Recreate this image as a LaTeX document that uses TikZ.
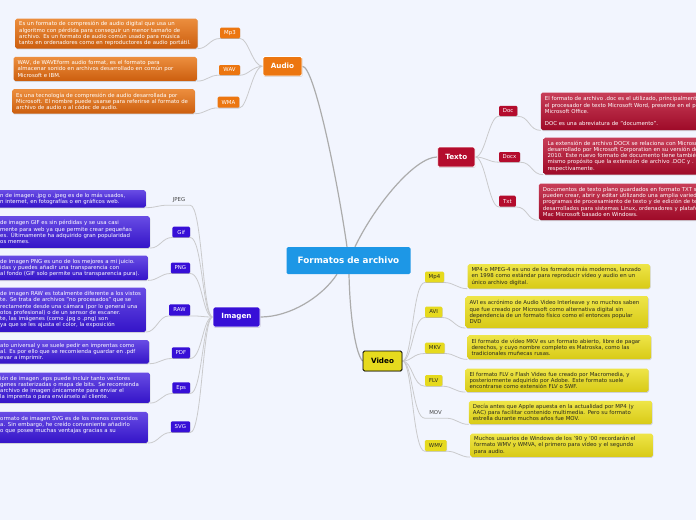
\documentclass[tikz,border=0pt]{standalone}
\usepackage{fontspec}
\setmainfont{DejaVu Sans}
\usetikzlibrary{shadows}
\pgfdeclarelayer{back}
\pgfdeclarelayer{lines}
\pgfsetlayers{back,lines,main}
\definecolor{bgc}{RGB}{242,245,254}
\definecolor{cRoot}{RGB}{29,151,230}
\definecolor{cAudio}{RGB}{236,118,16}
\definecolor{oT}{RGB}{236,142,62}
\definecolor{oB}{RGB}{204,94,14}
\definecolor{cTexto}{RGB}{180,12,45}
\definecolor{rT}{RGB}{200,62,88}
\definecolor{rB}{RGB}{158,10,40}
\definecolor{cImagen}{RGB}{55,15,215}
\definecolor{vT}{RGB}{104,76,228}
\definecolor{vB}{RGB}{52,20,200}
\definecolor{cVideo}{RGB}{230,218,30}
\definecolor{yT}{RGB}{238,229,72}
\definecolor{yB}{RGB}{216,202,22}
\definecolor{lineM}{RGB}{172,172,172}
\definecolor{lineS}{RGB}{202,202,204}
\definecolor{txtgray}{RGB}{70,70,70}
\definecolor{txtdark}{RGB}{40,40,30}
\begin{document}
\begin{tikzpicture}[x=1pt,y=-1pt,
  mainc/.style={draw=lineM, line width=1.2pt},
  subc/.style={draw=lineS, line width=0.8pt},
  topic/.style={rectangle, rounded corners=1.5pt, draw=white, line width=0.8pt,
    text=white, font=\bfseries\fontsize{7.2}{8}\selectfont, inner sep=0pt,
    drop shadow={shadow xshift=0.5pt, shadow yshift=-0.8pt, opacity=0.3}},
  lab/.style={rectangle, rounded corners=1.2pt, inner sep=0pt, text=white,
    font=\fontsize{5.4}{6}\selectfont,
    drop shadow={shadow xshift=0.4pt, shadow yshift=-0.6pt, opacity=0.25}},
  plainlab/.style={rectangle, inner sep=0pt, text=txtgray, font=\fontsize{5.4}{6}\selectfont},
  dsc/.style 2 args={rectangle, rounded corners=1.8pt, anchor=north west,
    inner xsep=4pt, inner ysep=0pt, text width=#1, minimum height=#2, align=left,
    font=\fontsize{5.4}{6.2}\selectfont,
    drop shadow={shadow xshift=0.5pt, shadow yshift=-0.9pt, opacity=0.3}},
  descO/.style 2 args={dsc={#1}{#2}, top color=oT, bottom color=oB, text=white},
  descR/.style 2 args={dsc={#1}{#2}, top color=rT, bottom color=rB, text=white},
  descV/.style 2 args={dsc={#1}{#2}, top color=vT, bottom color=vB, text=white},
  descY/.style 2 args={dsc={#1}{#2}, top color=yT, bottom color=yB, text=txtdark},
]
\useasboundingbox (0,0) rectangle (696,520);
\begin{pgfonlayer}{back}
\fill[bgc] (0,0) rectangle (696,520);
\end{pgfonlayer}
\clip (0,0) rectangle (696,520);

% ---------- root ----------
\node[rectangle, rounded corners=1.5pt, fill=cRoot, text=white, inner sep=0pt,
  minimum width=124pt, minimum height=27pt,
  font=\bfseries\fontsize{8.8}{10}\selectfont] (root) at (348.5,260.5) {Formatos de archivo};

% ---------- Audio ----------
\node[topic, fill=cAudio, minimum width=39pt, minimum height=19.5pt] (audio) at (282.5,66.3) {Audio};
\node[lab, fill=cAudio, minimum width=20pt, minimum height=10.6pt] (mp3) at (230,33) {Mp3};
\node[lab, fill=cAudio, minimum width=21pt, minimum height=10pt] (wav) at (229.5,70) {WAV};
\node[lab, fill=cAudio, minimum width=21.6pt, minimum height=11pt] (wma) at (228.5,102.2) {WMA};
\node[descO={174.3pt}{30pt}] (dmp3) at (15,18.3) {Es un formato de compresión de audio digital que usa un\\algoritmo con pérdida para conseguir un menor tamaño de\\archivo. Es un formato de audio común usado para música\\tanto en ordenadores como en reproductores de audio portátil.};
\node[descO={175.4pt}{24pt}] (dwav) at (13.3,56.7) {WAV, de WAVEform audio format, es el formato para\\almacenar sonido en archivos desarrollado en común por\\Microsoft e IBM.};
\node[descO={174.7pt}{24.3pt}] (dwma) at (12,89) {Es una tecnología de compresión de audio desarrollada por\\Microsoft. El nombre puede usarse para referirse al formato de\\archivo de audio o al códec de audio.};

% ---------- Texto ----------
\node[topic, fill=cTexto, minimum width=37.3pt, minimum height=20pt] (texto) at (456.3,157) {Texto};
\node[lab, fill=cTexto, minimum width=18.3pt, minimum height=10.3pt] (doc) at (508.2,110.9) {Doc};
\node[lab, fill=cTexto, minimum width=21pt, minimum height=10pt] (docx) at (509.5,157) {Docx};
\node[lab, fill=cTexto, minimum width=16.7pt, minimum height=11pt] (txt) at (507.4,201.2) {Txt};
\node[descR={200pt}{37.7pt}] (ddoc) at (540.7,92.3) {El formato de archivo .doc es el utilizado, principalmente,\\el procesador de texto Microsoft Word, presente en el paquete\\Microsoft Office.\\[6.2pt]DOC es una abreviatura de "documento".};
\node[descR={200pt}{37pt}] (ddocx) at (543.3,137.3) {La extensión de archivo DOCX se relaciona con Microsoft\\desarrollado por Microsoft Corporation en su versión de\\2010. Este nuevo formato de documento tiene también\\mismo propósito que la extensión de archivo .DOC y .\\respectivamente.};
\node[descR={200pt}{36.7pt}] (dtxt) at (538.7,183.3) {Documentos de texto plano guardados en formato TXT se\\pueden crear, abrir y editar utilizando una amplia variedad\\programas de procesamiento de texto y de edición de texto\\desarrollados para sistemas Linux, ordenadores y plataformas\\Mac Microsoft basado en Windows.};

% ---------- Imagen ----------
\node[topic, fill=cImagen, minimum width=47pt, minimum height=20pt] (imagen) at (236.5,317) {Imagen};
\node[plainlab, minimum width=22pt, minimum height=10pt] (jpeg) at (179,200) {JPEG};
\node[lab, fill=cImagen, minimum width=17.7pt, minimum height=10.6pt] (gif) at (181.2,232) {Gif};
\node[lab, fill=cImagen, minimum width=19.3pt, minimum height=10.6pt] (png) at (180.4,268) {PNG};
\node[lab, fill=cImagen, minimum width=21pt, minimum height=11.4pt] (raw) at (179.5,310) {RAW};
\node[lab, fill=cImagen, minimum width=18.3pt, minimum height=11pt] (pdf) at (180.9,352.8) {PDF};
\node[lab, fill=cImagen, minimum width=17.7pt, minimum height=11pt] (eps) at (181.2,387.8) {Eps};
\node[lab, fill=cImagen, minimum width=19.3pt, minimum height=11pt] (svg) at (180.4,426.8) {SVG};
\node[descV={141.7pt}{17.3pt}] (djpeg) at (-4,190) {n de imagen .jpg o .jpeg es de lo más usados,\\n internet, en fotografías o en gráficos web.};
\node[descV={145.7pt}{31.7pt}] (dgif) at (-4,216) {de imagen GIF es sin pérdidas y se usa casi\\mente para web ya que permite crear pequeñas\\es. Últimamente ha adquirido gran popularidad\\os memes.};
\node[descV={143.7pt}{24.7pt}] (dpng) at (-4,255.3) {de imagen PNG es uno de los mejores a mi juicio.\\idas y puedes añadir una transparencia con\\al fondo (GIF solo permite una transparencia pura).};
\node[descV={141.7pt}{44.4pt}] (dRAW) at (-4,287.3) {de imagen RAW es totalmente diferente a los vistos\\te. Se trata de archivos "no procesados" que se\\rectamente desde una cámara (por lo general una\\otos profesional) o de un sensor de escaner.\\te, las imágenes (como .jpg o .png) son\\ ya que se les ajusta el color, la exposición};
\node[descV={145pt}{23.3pt}] (dpdf) at (-4,340) {ato universal y se suele pedir en imprentas como\\al. Es por ello que se recomienda guardar en .pdf\\evar a imprimir.};
\node[descV={145.7pt}{30.4pt}] (deps) at (-4,372.3) {ión de imagen .eps puede incluir tanto vectores\\genes rasterizadas o mapa de bits. Se recomienda\\archivo de imagen únicamente para enviar el\\ la imprenta o para enviárselo al cliente.};
\node[descV={143.7pt}{31pt}] (dsvg) at (-4,411.7) {ormato de imagen SVG es de los menos conocidos\\a. Sin embargo, he creído conveniente añadirlo\\o que posee muchas ventajas gracias a su\\\mbox{}};

% ---------- Video ----------
\node[topic, fill=cVideo, draw=black, text=black, minimum width=39pt, minimum height=20pt] (video) at (382.5,361) {Video};
\node[lab, fill=cVideo, text=txtdark, minimum width=19pt, minimum height=10.6pt] (mp4) at (434.5,277) {Mp4};
\node[lab, fill=cVideo, text=txtdark, minimum width=17.3pt, minimum height=10.6pt] (avi) at (433.7,312) {AVI};
\node[lab, fill=cVideo, text=txtdark, minimum width=19.7pt, minimum height=10.6pt] (mkv) at (434.8,348) {MKV};
\node[lab, fill=cVideo, text=txtdark, minimum width=17.3pt, minimum height=11pt] (flv) at (433.7,380.5) {FLV};
\node[plainlab, minimum width=21pt, minimum height=10pt] (mov) at (435.5,413) {MOV};
\node[lab, fill=cVideo, text=txtdark, minimum width=21.7pt, minimum height=11pt] (wmv) at (435.8,445.5) {WMV};
\node[descY={174.7pt}{24.3pt}] (dmp4) at (467.3,264) {MP4 o MPEG-4 es uno de los formatos más modernos, lanzado\\en 1998 como estándar para reproducir vídeo y audio en un\\único archivo digital.};
\node[descY={175pt}{31.7pt}] (davi) at (465.3,296) {AVI es acrónimo de Audio Video Interleave y no muchos saben\\que fue creado por Microsoft como alternativa digital sin\\dependencia de un formato físico como el entonces popular\\DVD};
\node[descY={175.7pt}{24pt}] (dmkv) at (467.3,335) {El formato de vídeo MKV es un formato abierto, libre de pagar\\derechos, y cuyo nombre completo es Matroska, como las\\tradicionales muñecas rusas.};
\node[descY={175pt}{23.4pt}] (dflv) at (465.3,368.3) {El formato FLV o Flash Video fue creado por Macromedia, y\\posteriormente adquirido por Adobe. Este formato suele\\encontrarse como extensión FLV o SWF.};
\node[descY={175.3pt}{23.3pt}] (dmov) at (468.7,400.7) {Decía antes que Apple apuesta en la actualidad por MP4 (y\\AAC) para facilitar contenido multimedia. Pero su formato\\estrella durante muchos años fue MOV.};
\node[descY={174.7pt}{23.4pt}] (dwmv) at (470,433.3) {Muchos usuarios de Windows de los '90 y '00 recordarán el\\formato WMV y WMVA, el primero para vídeo y el segundo\\para audio.};

% ---------- connectors ----------
\begin{pgfonlayer}{lines}
\draw[mainc] ([xshift=-1.5pt]root.north) .. controls (337,177) and (314,66) .. (audio.east);
\draw[mainc] ([xshift=6.5pt]root.north) .. controls (375,205) and (415,157) .. (texto.west);
\draw[mainc] ([xshift=-11.5pt]root.south) .. controls (322,297) and (290,317) .. (imagen.east);
\draw[mainc] ([xshift=0.5pt]root.south) .. controls (350,320) and (356,354) .. (video.west);

\foreach \c/\d in {mp3/dmp3, wav/dwav, wma/dwma}{
  \draw[subc] (audio.west) .. controls +(-10,0) and +(8,0) .. (\c.south east) -- (\c.south west)
    .. controls +(-10,0) and +(10,0) .. (\d.south east);
}
\foreach \c/\d in {doc/ddoc, docx/ddocx, txt/dtxt}{
  \draw[subc] (texto.east) .. controls +(10,0) and +(-10,0) .. (\c.south west) -- (\c.south east)
    .. controls +(12,0) and +(-12,0) .. (\d.south west);
}
\foreach \c/\d in {jpeg/djpeg, gif/dgif, png/dpng, raw/dRAW, pdf/dpdf, eps/deps, svg/dsvg}{
  \draw[subc] (imagen.west) .. controls +(-10,0) and +(12,0) .. (\c.south east) -- (\c.south west)
    .. controls +(-10,0) and +(10,0) .. (\d.south east);
}
\foreach \c/\d in {mp4/dmp4, avi/davi, mkv/dmkv, flv/dflv, mov/dmov, wmv/dwmv}{
  \draw[subc] (video.east) .. controls +(10,0) and +(-12,0) .. (\c.south west) -- (\c.south east)
    .. controls +(10,0) and +(-10,0) .. (\d.south west);
}
\end{pgfonlayer}
\end{tikzpicture}
\end{document}
